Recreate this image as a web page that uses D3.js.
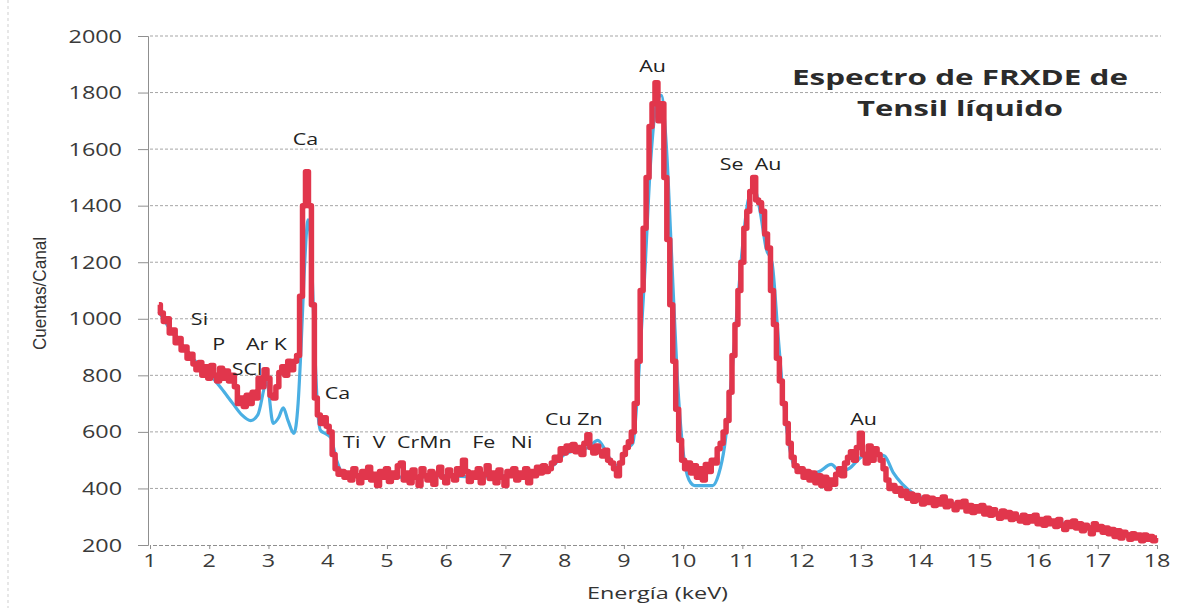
<!DOCTYPE html>
<html>
<head>
<meta charset="utf-8">
<script src="https://cdn.jsdelivr.net/npm/d3@7"></script>
<style>
  body { margin: 0; background: #fff; }
  svg { display: block; font-family: "Open Sans", "Liberation Sans", sans-serif; }
</style>
</head>
<body>
<svg id="chart" width="1183" height="608"></svg>
<script>
'use strict';

// x axis ticks (keV) and y axis ticks (cuentas)
var xTicks = [1, 2, 3, 4, 5, 6, 7, 8, 9, 10, 11, 12, 13, 14, 15, 16, 17, 18];
var yTicks = [200, 400, 600, 800, 1000, 1200, 1400, 1600, 1800, 2000];

// measured spectrum (red): first channel energy, channel width, counts per channel
var redStart = 1.15;
var redStep = 0.05;
var redCounts = [
  1050,1020,990,1000,950,960,915,930,890,900,860,875,840,820,845,800,830,790,835,800,
  780,825,790,815,780,800,760,700,720,690,730,700,740,720,790,760,820,790,730,720,
  760,810,830,800,850,820,850,870,1080,1400,1520,1400,1050,720,660,630,650,620,600,520,
  470,450,460,440,455,430,470,445,420,460,440,475,430,450,410,460,440,470,425,455,
  440,480,490,430,455,420,465,440,410,470,445,430,460,415,450,475,440,420,465,445,
  430,470,450,500,460,425,455,440,470,420,450,480,435,455,420,465,440,410,460,445,
  470,430,455,440,470,420,460,445,475,455,480,460,470,490,510,500,540,525,550,535,
  555,530,545,520,560,590,545,525,550,530,515,535,500,490,470,445,490,520,545,565,
  600,700,850,1100,1320,1500,1680,1760,1835,1700,1760,1500,1280,1050,850,680,570,500,470,490,
  455,480,440,470,430,485,460,500,490,540,560,600,640,740,870,980,1100,1200,1320,1380,
  1450,1500,1420,1410,1380,1300,1250,1100,980,860,780,700,630,560,510,480,460,470,440,460,
  430,455,420,445,410,440,400,430,415,450,470,445,490,510,530,500,545,595,520,490,
  550,500,540,520,500,470,430,400,410,390,400,375,390,365,380,355,375,360,345,370,
  350,365,340,360,345,370,335,355,340,325,350,335,355,320,340,315,335,320,340,310,
  330,305,325,310,295,320,300,315,290,310,295,285,305,280,300,285,305,275,290,270,
  295,275,285,265,290,270,255,280,265,285,260,275,250,270,260,240,275,255,265,245,
  260,240,255,230,250,225,245,235,220,240,225,235,215,235,220,230,215,225
];

// fitted spectrum (blue)
var blueEnergy = [
  1.15,1.3,1.4,1.55,1.7,2.0,2.2,2.4,2.55,2.7,2.82,2.97,3.08,3.17,3.25,3.33,3.43,3.5,3.55,3.6,
  3.67,3.73,3.78,3.83,3.88,3.95,4.05,4.15,4.25,4.5,5.0,5.5,6.0,6.5,7.0,7.5,7.8,8.0,8.2,8.4,
  8.56,8.7,8.85,8.95,9.05,9.15,9.25,9.35,9.45,9.55,9.63,9.72,9.8,9.9,10.0,10.1,10.2,10.5,10.6,10.7,
  10.8,10.9,11.0,11.1,11.2,11.3,11.4,11.5,11.6,11.7,11.8,11.9,12.1,12.3,12.5,12.65,12.8,13.0,13.2,13.4,
  13.55,13.7,13.9,14.2,14.6,15.0,15.5,16.0,16.5,17.0,17.5,18.0
];
var blueCounts = [
  1025,975,945,905,865,805,755,700,660,640,660,775,630,650,685,640,595,700,900,1150,
  1350,1200,900,680,605,595,580,500,455,445,440,440,445,440,445,455,480,520,535,545,
  570,530,480,490,540,560,800,1150,1550,1760,1790,1600,1250,800,530,430,410,410,450,550,
  750,1000,1250,1420,1460,1380,1250,1200,950,700,540,470,450,460,485,460,470,510,525,515,
  455,415,380,360,345,325,305,290,275,258,240,225
];

// element labels: text, energy and counts of the label's left baseline point
var peakNames = ['Si', 'P', 'Ar K', 'SCl', 'Ca', 'Ca', 'Ti', 'V', 'CrMn', 'Fe', 'Ni', 'Cu Zn', 'Au', 'Se  Au', 'Au'];
var peakEnergy = [1.69, 2.05, 2.62, 2.38, 3.41, 3.95, 4.26, 4.76, 5.17, 6.44, 7.09, 7.67, 9.26, 10.62, 12.82];
var peakCounts = [978, 890, 890, 801, 1615, 716, 543, 543, 543, 543, 543, 624, 1873, 1526, 624];

var titleLines = ['Espectro de FRXDE de', 'Tensil líquido'];

var svg = d3.select('#chart');
var x = d3.scaleLinear().domain([1, 18]).range([150, 1157]);
var y = d3.scaleLinear().domain([200, 2000]).range([545, 36]);

// the scanned page is wider than tall: stretch glyphs horizontally
var SX = 1.3;
function wideText(g, px, py, str, size, anchor) {
  return g.append('text')
    .attr('transform', 'translate(' + px + ',' + py + ') scale(' + SX + ',1)')
    .attr('text-anchor', anchor || 'start')
    .attr('fill', '#2a2a2a')
    .style('font-size', size + 'px')
    .style('white-space', 'pre')
    .text(str);
}

// scanned page edge
svg.append('line')
  .attr('x1', 8).attr('x2', 8).attr('y1', 0).attr('y2', 608)
  .attr('stroke', '#cfcfcf').attr('stroke-width', 1)
  .attr('stroke-dasharray', '3,3');

// horizontal grid
svg.append('g')
  .selectAll('line')
  .data(yTicks.slice(1))
  .enter().append('line')
  .attr('x1', x(1)).attr('x2', x(18) + 4)
  .attr('y1', function(d) { return y(d); })
  .attr('y2', function(d) { return y(d); })
  .attr('stroke', '#a5a5a5')
  .attr('stroke-width', 1)
  .attr('stroke-dasharray', '3,2');

var yAxis = svg.append('g')
  .attr('transform', 'translate(' + (x(1) - 2) + ',0)')
  .call(d3.axisLeft(y).tickValues(yTicks).tickSize(10).tickFormat(''));

var xAxis = svg.append('g')
  .attr('transform', 'translate(0,' + y(200) + ')')
  .call(d3.axisBottom(x).tickValues(xTicks).tickSize(4).tickFormat(''));

[yAxis, xAxis].forEach(function(a) {
  a.select('.domain').attr('stroke', '#8f8f8f');
  a.selectAll('.tick line').attr('stroke', '#8f8f8f');
});
xAxis.select('.domain').attr('stroke-dasharray', '4,2');

var labels = svg.append('g').attr('class', 'tick-labels');
yTicks.forEach(function(v) {
  wideText(labels, 122, y(v) + 6.5, String(v), 18, 'end').attr('fill', '#3a3a3a');
});
xTicks.forEach(function(v) {
  wideText(labels, x(v), 566.5, String(v), 18, 'middle').attr('fill', '#3a3a3a');
});

// fitted curve
var blueData = blueEnergy.map(function(e, i) { return [e, blueCounts[i]]; });
svg.append('path')
  .datum(blueData)
  .attr('fill', 'none')
  .attr('stroke', '#4aafe3')
  .attr('stroke-width', 3.2)
  .attr('stroke-linejoin', 'round')
  .attr('d', d3.line()
    .x(function(d) { return x(d[0]); })
    .y(function(d) { return y(d[1]); })
    .curve(d3.curveMonotoneX));

// measured curve
var redData = redCounts.map(function(c, i) { return [redStart + i * redStep, c]; });
svg.append('path')
  .datum(redData)
  .attr('fill', 'none')
  .attr('stroke', '#e1364c')
  .attr('stroke-width', 5.5)
  .attr('stroke-linejoin', 'round')
  .attr('d', d3.line()
    .x(function(d) { return x(d[0]); })
    .y(function(d) { return y(d[1]); })
    .curve(d3.curveStep));

// element labels
var peaks = svg.append('g').attr('class', 'peaks');
peakNames.forEach(function(n, i) {
  wideText(peaks, x(peakEnergy[i]), y(peakCounts[i]), n, 16.5).attr('fill', '#222');
});

// axis titles
svg.append('text')
  .attr('transform', 'translate(46,350) rotate(-90)')
  .attr('fill', '#333')
  .attr('textLength', 113)
  .attr('lengthAdjust', 'spacingAndGlyphs')
  .style('font-family', '"Liberation Sans Narrow", "Liberation Sans", sans-serif')
  .style('font-size', '18px')
  .text('Cuentas/Canal');

svg.append('text')
  .attr('x', 587).attr('y', 599)
  .attr('fill', '#333')
  .attr('textLength', 141)
  .attr('lengthAdjust', 'spacingAndGlyphs')
  .style('font-size', '17px')
  .text('Energía (keV)');

// chart title
var titleLen = [336, 206];
svg.append('g')
  .selectAll('text')
  .data(titleLines)
  .enter().append('text')
  .attr('x', function(d, i) { return 960 - titleLen[i] / 2; })
  .attr('y', function(d, i) { return 85 + i * 31; })
  .attr('textLength', function(d, i) { return titleLen[i]; })
  .attr('lengthAdjust', 'spacingAndGlyphs')
  .attr('fill', '#2b2b2b')
  .style('font-size', '22px')
  .style('font-weight', 'bold')
  .text(function(d) { return d; });
</script>
</body>
</html>
